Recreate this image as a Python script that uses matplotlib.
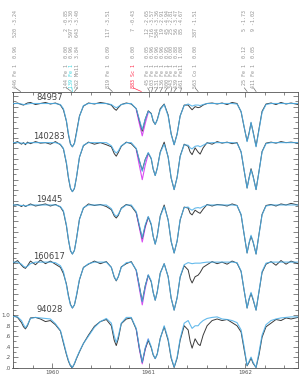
import numpy as np
import matplotlib
matplotlib.use("Agg")
import matplotlib.pyplot as plt

# wavelength grid shared by all spectra
wave = [1959.590, 1959.642, 1959.683, 1959.704, 1959.724, 1959.745, 1959.776, 1959.828, 1959.879, 1959.931,
        1959.982, 1960.034, 1960.086, 1960.117, 1960.148, 1960.169, 1960.190, 1960.210, 1960.231, 1960.252,
        1960.283, 1960.324, 1960.376, 1960.438, 1960.499, 1960.561, 1960.613, 1960.643, 1960.664, 1960.685,
        1960.716, 1960.768, 1960.819, 1960.871, 1960.902, 1960.933, 1960.964, 1960.995, 1961.026, 1961.046,
        1961.067, 1961.088, 1961.119, 1961.160, 1961.201, 1961.232, 1961.263, 1961.294, 1961.325, 1961.367,
        1961.408, 1961.429, 1961.449, 1961.480, 1961.511, 1961.532, 1961.563, 1961.604, 1961.656, 1961.708,
        1961.759, 1961.811, 1961.863, 1961.914, 1961.956, 1961.987, 1962.018, 1962.039, 1962.059, 1962.080,
        1962.111, 1962.142, 1962.173, 1962.214, 1962.266, 1962.317, 1962.369, 1962.421, 1962.473, 1962.545]

stars = ["84937", "140283", "19445", "160617", "94028"]
offsets = [4.06, 3.31, 2.115, 1.02, 0.0]

# observed spectra (normalised flux)
obs_84937 = [0.99, 1.01, 0.98, 0.97, 0.99, 1.01, 1.02, 0.98, 1.00, 1.02,
             0.99, 1.01, 0.97, 0.88, 0.66, 0.40, 0.22, 0.17, 0.24, 0.45,
             0.76, 0.95, 1.01, 0.99, 1.02, 1.00, 0.97, 0.90, 0.87, 0.92,
             0.98, 1.01, 0.99, 0.90, 0.68, 0.47, 0.70, 0.86, 0.81, 0.66,
             0.60, 0.69, 0.90, 0.99, 0.78, 0.42, 0.21, 0.42, 0.76, 0.97,
             0.97, 0.92, 0.88, 0.94, 0.92, 0.93, 0.97, 1.00, 1.01, 0.99,
             1.01, 0.98, 1.02, 1.00, 0.84, 0.55, 0.28, 0.44, 0.63, 0.46,
             0.18, 0.52, 0.85, 0.99, 1.01, 0.98, 1.02, 0.99, 1.01, 0.98]
obs_140283 = [0.98, 1.02, 0.97, 1.00, 0.96, 1.01, 0.98, 1.02, 0.99, 1.00,
              0.97, 1.02, 0.96, 0.88, 0.60, 0.32, 0.12, 0.06, 0.12, 0.33,
              0.72, 0.94, 1.01, 0.97, 1.00, 0.96, 0.92, 0.79, 0.74, 0.81,
              0.93, 1.01, 0.98, 0.88, 0.66, 0.47, 0.68, 0.80, 0.69, 0.49,
              0.37, 0.51, 0.82, 1.01, 0.72, 0.32, 0.10, 0.34, 0.74, 0.97,
              0.93, 0.82, 0.77, 0.90, 0.82, 0.78, 0.90, 1.00, 0.97, 1.02,
              0.99, 1.01, 0.98, 1.00, 0.82, 0.47, 0.13, 0.33, 0.50, 0.36,
              0.10, 0.46, 0.83, 0.99, 1.01, 0.99, 1.02, 1.00, 1.01, 0.99]
obs_19445 = [0.99, 1.01, 0.97, 1.00, 0.97, 0.99, 1.02, 0.98, 1.00, 1.02,
             0.98, 1.01, 0.96, 0.87, 0.60, 0.33, 0.12, 0.06, 0.13, 0.35,
             0.73, 0.94, 1.02, 0.99, 1.01, 0.97, 0.91, 0.79, 0.75, 0.80,
             0.94, 1.01, 0.98, 0.85, 0.60, 0.36, 0.60, 0.77, 0.62, 0.40,
             0.25, 0.41, 0.79, 1.00, 0.71, 0.30, 0.08, 0.31, 0.71, 0.96,
             0.94, 0.84, 0.81, 0.90, 0.86, 0.84, 0.92, 1.01, 0.98, 1.01,
             1.00, 0.98, 1.02, 0.99, 0.81, 0.44, 0.08, 0.27, 0.40, 0.29,
             0.06, 0.45, 0.82, 0.99, 1.01, 0.98, 1.02, 1.00, 1.03, 1.00]
obs_160617 = [0.97, 1.03, 0.94, 0.90, 0.88, 0.93, 1.02, 0.95, 1.04, 0.97,
              1.02, 0.96, 0.90, 0.78, 0.58, 0.36, 0.19, 0.12, 0.18, 0.35,
              0.66, 0.90, 0.96, 1.02, 0.97, 1.01, 0.90, 0.71, 0.64, 0.72,
              0.91, 0.97, 1.01, 0.84, 0.55, 0.25, 0.55, 0.75, 0.62, 0.42,
              0.27, 0.43, 0.79, 0.97, 0.72, 0.31, 0.08, 0.32, 0.71, 0.93,
              0.85, 0.68, 0.60, 0.72, 0.75, 0.80, 0.90, 0.95, 1.01, 0.97,
              1.00, 0.96, 1.02, 0.98, 0.82, 0.46, 0.12, 0.29, 0.40, 0.28,
              0.08, 0.44, 0.80, 0.96, 1.01, 0.94, 1.03, 0.96, 1.02, 0.97]
obs_94028 = [1.00, 0.96, 0.86, 0.78, 0.74, 0.80, 0.95, 0.96, 0.93, 0.88,
             0.90, 0.82, 0.70, 0.47, 0.25, 0.12, 0.03, 0.00, 0.07, 0.17,
             0.30, 0.46, 0.62, 0.79, 0.88, 0.92, 0.80, 0.52, 0.42, 0.55,
             0.84, 0.93, 0.95, 0.73, 0.38, 0.10, 0.36, 0.52, 0.38, 0.24,
             0.17, 0.26, 0.56, 0.78, 0.52, 0.18, 0.00, 0.18, 0.52, 0.80,
             0.72, 0.50, 0.37, 0.55, 0.45, 0.42, 0.62, 0.80, 0.90, 0.93,
             0.90, 0.92, 0.86, 0.80, 0.68, 0.35, 0.03, 0.10, 0.18, 0.08,
             0.00, 0.25, 0.58, 0.78, 0.85, 0.92, 0.90, 0.95, 0.93, 0.96]

# synthetic spectra
syn_84937 = [1.00, 1.00, 0.99, 0.98, 0.98, 0.99, 1.00, 1.00, 1.00, 1.00,
             1.00, 1.00, 0.98, 0.90, 0.67, 0.42, 0.23, 0.17, 0.23, 0.42,
             0.75, 0.96, 1.00, 1.00, 1.00, 1.00, 0.98, 0.94, 0.92, 0.94,
             0.98, 1.00, 1.00, 0.90, 0.70, 0.50, 0.70, 0.85, 0.80, 0.68,
             0.60, 0.68, 0.88, 0.98, 0.76, 0.41, 0.21, 0.41, 0.76, 0.96,
             0.99, 0.97, 0.95, 0.97, 0.97, 0.96, 0.98, 1.00, 1.00, 1.00,
             1.00, 1.00, 1.00, 0.99, 0.85, 0.56, 0.27, 0.42, 0.64, 0.45,
             0.17, 0.50, 0.83, 0.98, 1.00, 1.00, 1.00, 1.00, 1.00, 1.00]
syn_140283 = [1.00, 1.00, 0.99, 0.99, 0.98, 0.99, 1.00, 1.00, 1.00, 1.00,
              1.00, 1.00, 0.97, 0.89, 0.62, 0.34, 0.13, 0.06, 0.13, 0.34,
              0.72, 0.95, 1.00, 1.00, 1.00, 1.00, 0.94, 0.84, 0.80, 0.84,
              0.94, 1.00, 1.00, 0.89, 0.67, 0.45, 0.67, 0.81, 0.70, 0.50,
              0.37, 0.50, 0.81, 0.97, 0.73, 0.33, 0.10, 0.33, 0.73, 0.96,
              0.95, 0.90, 0.88, 0.93, 0.94, 0.92, 0.95, 0.99, 1.00, 1.00,
              1.00, 1.00, 1.00, 0.99, 0.83, 0.48, 0.13, 0.32, 0.48, 0.35,
              0.10, 0.45, 0.82, 0.98, 1.00, 1.00, 1.00, 1.00, 1.00, 1.00]
syn_19445 = [1.00, 1.00, 0.99, 0.99, 0.98, 0.99, 1.00, 1.00, 1.00, 1.00,
             1.00, 1.00, 0.97, 0.89, 0.62, 0.34, 0.13, 0.06, 0.13, 0.34,
             0.72, 0.95, 1.00, 1.00, 1.00, 1.00, 0.93, 0.82, 0.78, 0.82,
             0.93, 1.00, 1.00, 0.87, 0.62, 0.37, 0.62, 0.78, 0.64, 0.40,
             0.25, 0.40, 0.78, 0.97, 0.72, 0.31, 0.08, 0.31, 0.72, 0.95,
             0.96, 0.92, 0.90, 0.94, 0.95, 0.94, 0.97, 1.00, 1.00, 1.00,
             1.00, 1.00, 1.00, 0.99, 0.82, 0.45, 0.08, 0.28, 0.42, 0.30,
             0.06, 0.44, 0.81, 0.98, 1.00, 1.00, 1.00, 1.00, 1.00, 1.00]
syn_160617 = [1.00, 1.00, 0.96, 0.92, 0.90, 0.92, 0.97, 1.00, 1.00, 1.00,
              1.00, 0.99, 0.93, 0.82, 0.56, 0.34, 0.18, 0.12, 0.18, 0.37,
              0.67, 0.89, 0.97, 1.00, 1.00, 1.00, 0.90, 0.72, 0.65, 0.72,
              0.90, 0.99, 1.00, 0.85, 0.54, 0.24, 0.54, 0.76, 0.64, 0.42,
              0.27, 0.42, 0.78, 0.97, 0.72, 0.31, 0.08, 0.31, 0.72, 0.95,
              0.99, 0.98, 0.97, 0.98, 0.98, 0.98, 0.99, 1.00, 1.00, 1.00,
              1.00, 1.00, 1.00, 0.99, 0.83, 0.47, 0.12, 0.30, 0.42, 0.30,
              0.08, 0.45, 0.82, 0.98, 1.00, 1.00, 1.00, 1.00, 1.00, 1.00]
syn_94028 = [0.98, 0.97, 0.90, 0.82, 0.76, 0.82, 0.94, 0.96, 0.95, 0.94,
             0.93, 0.84, 0.71, 0.50, 0.27, 0.14, 0.04, 0.00, 0.08, 0.18,
             0.31, 0.46, 0.60, 0.77, 0.88, 0.94, 0.85, 0.60, 0.48, 0.60,
             0.85, 0.96, 0.96, 0.75, 0.40, 0.10, 0.38, 0.55, 0.40, 0.25,
             0.17, 0.25, 0.55, 0.80, 0.55, 0.20, 0.01, 0.20, 0.55, 0.85,
             0.90, 0.82, 0.75, 0.80, 0.80, 0.85, 0.90, 0.94, 0.96, 0.97,
             0.93, 0.92, 0.90, 0.86, 0.72, 0.40, 0.04, 0.12, 0.20, 0.10,
             0.00, 0.30, 0.62, 0.82, 0.90, 0.93, 0.95, 0.96, 0.97, 0.97]

# Sc I line with the higher abundance (magenta)
wave_sc = [1960.871, 1960.902, 1960.933, 1960.964, 1960.995]
sc_84937 = [0.88, 0.62, 0.38, 0.62, 0.83]
sc_140283 = [0.86, 0.57, 0.29, 0.57, 0.78]
sc_19445 = [0.85, 0.57, 0.29, 0.57, 0.76]
sc_160617 = [0.83, 0.50, 0.18, 0.50, 0.74]
sc_94028 = [0.73, 0.36, 0.07, 0.35, 0.54]

observed = [obs_84937, obs_140283, obs_19445, obs_160617, obs_94028]
synthetic = [syn_84937, syn_140283, syn_19445, syn_160617, syn_94028]
scandium = [sc_84937, sc_140283, sc_19445, sc_160617, sc_94028]

# line identifications along the top
id_head = ["446 Fe 1", "144 Fe 1", "139 Fe 1", "262 Mn11", "819 Fe 1", "883 Sc 1",
           " 45 Fe 1", "103 Fe 1", "131 Fe 1", "136 Fe 1", "300 Fe 1", "343 Fe 1",
           "439 Fe 1", "461 Fe11", "563 Co 1", " 25 Fe 1", "411 Fe 1"]
id_tail = ["  0.96   520 -3.24", "  0.00     2 -0.85", "  0.96   597 -3.30", "  3.84   643 -3.40",
           "  0.09   117 -3.51", "  0.00     7 -0.43", "  0.05    12 -2.65", "  0.96   716 -3.57",
           "  0.96   584 -3.36", "  0.96    19 -2.91", "  0.95    45 -4.94", "  0.00    25 -2.81",
           "  0.88    56 -3.47", "  1.08    85 -4.67", "  0.00   387 -1.51", "  0.12     5 -1.73",
           "  0.05     9 -1.02"]
id_label_x = [1959.621, 1960.148, 1960.205, 1960.262, 1960.582, 1960.840,
              1960.990, 1961.040, 1961.090, 1961.140, 1961.190, 1961.240,
              1961.290, 1961.340, 1961.480, 1961.990, 1962.085]
id_line_x = [1959.673, 1960.199, 1960.210, 1960.231, 1960.623, 1960.923,
             1961.010, 1961.030, 1961.067, 1961.120, 1961.170, 1961.230,
             1961.263, 1961.330, 1961.511, 1962.018, 1962.111]
id_color = ["#909090", "#909090", "#3fd8e0", "#909090", "#909090", "#ff2a4a",
            "#909090", "#909090", "#909090", "#909090", "#909090", "#909090",
            "#909090", "#909090", "#909090", "#909090", "#909090"]

fig = plt.figure(figsize=(3.01, 3.75), dpi=100)
ax = fig.add_axes([12.5 / 301, 7.5 / 375, 285.5 / 301, 276 / 375])

w = np.array(wave)
for name, off, ob, sy, sc in zip(stars, offsets, observed, synthetic, scandium):
    ax.plot(wave_sc, np.array(sc) + off, color="#d84cf2", lw=0.8, zorder=2)
    ax.plot(w, np.array(ob) + off, color="#3a3a3a", lw=0.7, zorder=3)
    ax.plot(w, np.array(sy) + off, color="#4aaee8", lw=0.8, alpha=0.85, zorder=4)
    ax.text(1959.972, off + 1.11, name, fontsize=6, color="#444444",
            ha="center", va="center", zorder=5)

ax.set_xlim(1959.590, 1962.545)
ax.set_ylim(0, 5.29)

ax.set_xticks([1960, 1961, 1962])
ax.set_xticklabels(["1960", "1961", "1962"])
ax.set_xticks(np.arange(1959.6, 1962.6, 0.2), minor=True)
ylab_extra = list(np.arange(1.2, 5.3, 0.2))
ax.set_yticks([0, 0.2, 0.4, 0.6, 0.8, 1.0] + ylab_extra)
ax.set_yticklabels([".0", ".2", ".4", ".6", ".8", "1.0"] + [""] * len(ylab_extra))
ax.set_yticks(np.arange(0, 5.3, 0.1), minor=True)
ax.tick_params(which="both", direction="in", top=True, right=True,
               labelsize=4, colors="#555555", pad=1.5)
ax.tick_params(which="major", length=3.5, width=0.5)
ax.tick_params(which="minor", length=2, width=0.5)
for s in ax.spines.values():
    s.set_linewidth(0.6)
    s.set_color("#555555")

# line identifications, rotated, above the box
fs = 3.6
tr = ax.get_xaxis_transform()
for head, tail, lx, wx, col in zip(id_head, id_tail, id_label_x, id_line_x, id_color):
    ax.annotate(head, xy=(lx, 1.013), xycoords=tr, rotation=90, fontsize=fs,
                family="DejaVu Sans Mono", color=col, ha="center", va="bottom",
                annotation_clip=False)
    ax.annotate(tail, xy=(lx, 1.013), xycoords=tr, xytext=(0, len(head) * 0.602 * fs),
                textcoords="offset points", rotation=90, fontsize=fs,
                family="DejaVu Sans Mono", color="#909090", ha="center", va="bottom",
                annotation_clip=False)
    ax.plot([lx, wx], [1.013, 1.0], color=col if col != "#909090" else "#707070",
            lw=0.5, transform=tr, clip_on=False)

plt.savefig("out.png", dpi=100)
